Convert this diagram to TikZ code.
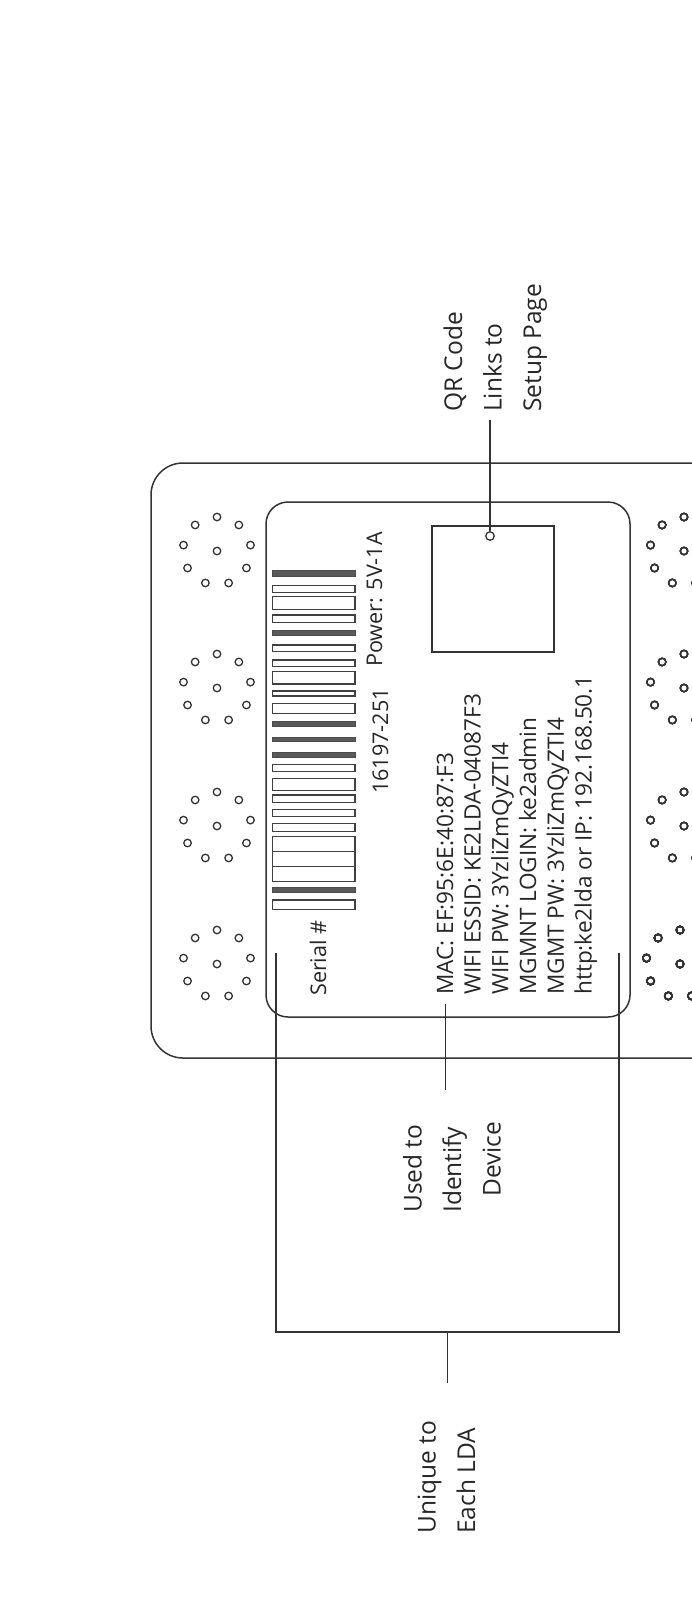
\documentclass[tikz,border=0pt]{standalone}
\usepackage{fontspec}
\setmainfont{Open Sans}
\tikzset{
  outline/.style={draw=black!80,line width=1.5pt},
  lead/.style={draw=black!80,line width=1.5pt},
  hole/.style={circle,draw=black!80,line width=1.3pt,minimum size=7.5pt,inner sep=0pt},
  barbox/.style={draw=black!75,line width=1.5pt},
  barfill/.style={draw=black!70,fill=black!65,line width=1pt},
  cardtext/.style={rotate=90,anchor=base west,inner sep=0pt,text=black!85,font=\fontsize{21.6}{27.7}\selectfont,align=left},
  idblock/.style={cardtext,font=\fontsize{22.6}{27.7}\selectfont},
  calltext/.style={rotate=90,anchor=base west,inner sep=0pt,text=black!85,font=\fontsize{24.5}{39.5}\selectfont,align=left}
}
\newcommand{\holeset}[2]{
  \node [hole] at (#1,#2) {};
  \foreach \a in {90,130,...,410}
    \node [hole] at ({#1+34*cos(\a)},{#2-34*sin(\a)}) {};
}
\begin{document}
\begin{tikzpicture}[x=1pt,y=-1pt]
  \clip (0,0) rectangle (692,1615);
  \useasboundingbox (0,0) rectangle (692,1615);
  \draw [outline,rounded corners=32pt] (151,463) rectangle (800,1058);
  \draw [outline,rounded corners=22pt] (266,502) rectangle (630,1017);
  \draw [outline] (432,526) rectangle (554,652);
  \foreach \cy in {551,688,826,964}
    \holeset{217}{\cy}
  \foreach \cy in {551,688,826}
    \holeset{684}{\cy}
  \holeset{680}{964}
  \foreach \ya/\yb in {585.7/592.7,596.7/609.3,615/622.3,645/651.7,660/666.7,671.3/684,691/696,703.3/713.3,764.3/771.7,778.3/790.7,795/802.3,809.3/816.7,823.3/831.7,836.7/851.7,851.7/866.7,866.7/881.7,900/909.3}
    \draw [barbox] (272.7,\ya) rectangle (355,\yb);
  \foreach \ya/\yb in {570.7/576,630/635.3,721/726.7,737.3/741.7,752/757.3,887.3/892.3}
    \draw [barfill] (272.7,\ya) rectangle (355,\yb);
  \node [cardtext] (serial) at (326,996) {Serial \#};
  \node [cardtext] (batch) at (388,794) {16197-251};
  \node [cardtext] (power) at (382,667) {Power: 5V-1A};
  \node [idblock] (idtext) at (591.5,995) {MAC: EF:95:6E:40:87:F3\\WIFI ESSID: KE2LDA-04087F3\\WIFI PW: 3YzliZmQyZTI4\\MGMNT LOGIN: ke2admin\\MGMT PW: 3YzliZmQyZTI4\\http:ke2lda or IP: 192.168.50.1};
  \node [calltext] (qrlabel) at (541,412) {QR Code\\Links to\\Setup Page};
  \node [calltext] (idlabel) at (500.5,1213) {Used to\\Identify\\\hspace*{16pt}Device};
  \node [calltext] (lda) at (475,1534) {Unique to\\Each LDA};
  \node [hole,minimum size=8.5pt] (qrdot) at (490,536) {};
  \coordinate (qrtop) at (490,420);
  \coordinate (idtop) at (445.5,1004);
  \coordinate (idend) at (445.5,1090);
  \coordinate (brleft) at (276,953);
  \coordinate (brright) at (619,953);
  \coordinate (brmid) at (447.7,1332);
  \coordinate (brend) at (447.7,1383);
  \draw [lead] (qrtop) -- (qrdot);
  \draw [lead] (idtop) -- (idend);
  \draw [lead] (brleft) |- (brmid) -| (brright);
  \draw [lead] (brmid) -- (brend);
\end{tikzpicture}
\end{document}
